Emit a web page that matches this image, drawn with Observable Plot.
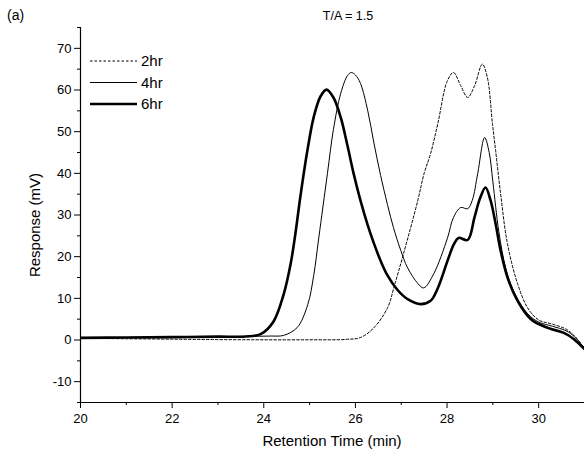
<!DOCTYPE html>
<html>
<head>
<meta charset="utf-8">
<script src="https://cdn.jsdelivr.net/npm/d3@7"></script>
<script src="https://cdn.jsdelivr.net/npm/@observablehq/plot@0.6"></script>
<style>
  body { margin: 0; background: #fff; }
  #chart { width: 584px; height: 464px; }
  svg { font-family: "Liberation Sans", Arial, sans-serif; }
</style>
</head>
<body>
<div id="chart"></div>
<script>
// ---- data ----
const seriesNames = ["2hr", "4hr", "6hr"];

const t2 = [20, 21, 22, 23, 24, 25, 25.8, 26.11, 26.4, 26.7, 26.85, 27.05, 27.36, 27.5, 27.64, 27.8, 28.0, 28.14, 28.3, 28.45, 28.6, 28.77, 28.88, 28.99, 29.06, 29.17, 29.32, 29.54, 29.76, 30.0, 30.3, 30.6, 30.78, 31];
const v2 = [0.4, 0.3, 0.2, 0.1, 0.05, 0.05, 0.15, 0.6, 2.9, 7.7, 13, 20.7, 33.4, 40, 44.7, 52, 62, 64.2, 61, 58.2, 61, 66.2, 63, 52, 45.5, 35, 23, 13.5, 7.7, 4.8, 3.8, 2.6, 1.0, -2];

const t4 = [20, 21, 22, 23, 23.8, 24.15, 24.43, 24.73, 24.96, 25.09, 25.2, 25.39, 25.52, 25.68, 25.83, 25.91, 26.0, 26.11, 26.27, 26.4, 26.55, 26.7, 26.83, 26.99, 27.14, 27.36, 27.49, 27.71, 28.01, 28.14, 28.3, 28.45, 28.55, 28.67, 28.82, 28.92, 29.0, 29.13, 29.28, 29.45, 29.76, 30.0, 30.3, 30.6, 30.78, 31];
const v4 = [0.5, 0.6, 0.7, 0.8, 0.9, 0.95, 1.1, 3.0, 8.5, 15.5, 24.5, 40, 50.5, 59.2, 63.5, 64.2, 63.6, 61.6, 55, 47.5, 39.5, 32.5, 27, 21.5, 17.3, 13.6, 12.5, 15.9, 24.5, 29.4, 31.8, 31.5, 33.5, 40, 48.6, 45, 38, 26, 17.3, 11.8, 6.3, 4.3, 3.3, 2.2, 0.8, -2];

const t6 = [20, 21, 22, 23, 23.6, 23.93, 24.21, 24.43, 24.59, 24.69, 24.8, 24.96, 25.09, 25.24, 25.37, 25.52, 25.68, 25.83, 25.96, 26.11, 26.27, 26.4, 26.55, 26.7, 26.92, 27.14, 27.42, 27.64, 27.8, 28.01, 28.15, 28.25, 28.45, 28.6, 28.72, 28.84, 28.95, 29.06, 29.17, 29.32, 29.54, 29.83, 30.2, 30.55, 30.77, 31];
const v6 = [0.5, 0.6, 0.7, 0.8, 0.85, 1.4, 4.4, 10.8, 18.5, 25.5, 34.5, 46, 53.5, 58.5, 60.1, 58.2, 53.4, 46.5, 40, 33.5, 27.5, 23.3, 19, 15.5, 12, 9.8, 8.6, 9.4, 12.5, 19, 23, 24.5, 24, 29.5, 34, 36.6, 33.5, 27.9, 21.4, 15, 9.4, 5, 2.9, 1.7, 0.2, -2.2];

const xTicksMajor = [20, 22, 24, 26, 28, 30];
const xTicksMinor = [21, 23, 25, 27, 29, 31];
const yTicksMajor = [-10, 0, 10, 20, 30, 40, 50, 60, 70];
const yTicksMinor = [-15, -5, 5, 15, 25, 35, 45, 55, 65, 75];

const titleText = "T/A = 1.5";
const panelText = "(a)";
const xLabel = "Retention Time (min)";
const yLabel = "Response (mV)";

// build long table
const rows = [];
[[t2, v2, "2hr"], [t4, v4, "4hr"], [t6, v6, "6hr"]].forEach(([ts, vs, s]) => {
  ts.forEach((t, i) => rows.push({t, v: vs[i], s}));
});

const styles = {
  "2hr": {strokeWidth: 1, dash: "2.5,2"},
  "4hr": {strokeWidth: 1, dash: null},
  "6hr": {strokeWidth: 2.6, dash: null}
};

const W = 584, H = 464;
const mL = 80, mR = 0, mT = 27, mB = 62;

const lineMarks = seriesNames.map(s => Plot.line(rows.filter(d => d.s === s), {
  x: "t", y: "v", stroke: "black", strokeWidth: styles[s].strokeWidth,
  strokeDasharray: styles[s].dash, curve: "catmull-rom", clip: true
}));

const chart = Plot.plot({
  width: W, height: H,
  marginLeft: mL, marginRight: mR, marginTop: mT, marginBottom: mB,
  style: {fontFamily: "'Liberation Sans', Arial, sans-serif", fontSize: "13px", color: "black", background: "white"},
  x: {domain: [20, 31]},
  y: {domain: [-15, 75]},
  marks: [
    Plot.axisX({ticks: xTicksMajor, tickSize: 6, tickPadding: 5, label: null, fontSize: 13, tickFormat: d => String(d)}),
    Plot.axisX({ticks: xTicksMinor, tickSize: 3, label: null, tickFormat: () => ""}),
    Plot.axisY({ticks: yTicksMajor, tickSize: 6, tickPadding: 3, label: null, fontSize: 13, tickFormat: d => String(d)}),
    Plot.axisY({ticks: yTicksMinor, tickSize: 3, label: null, tickFormat: () => ""}),
    Plot.ruleX([20], {stroke: "black", strokeWidth: 1.2}),
    Plot.ruleY([-15], {stroke: "black", strokeWidth: 1.2}),
    ...lineMarks
  ]
});

document.getElementById("chart").appendChild(chart);

// text & legend annotations
const svg = d3.select(chart);
svg.append("text").attr("x", 7).attr("y", 20).attr("text-anchor", "start").attr("font-size", 14).attr("fill", "black").text(panelText);
svg.append("text").attr("x", 348).attr("y", 20).attr("text-anchor", "middle").attr("font-size", 12.5).attr("fill", "black").text(titleText);
svg.append("text").attr("x", (mL + W - mR) / 2).attr("y", 446).attr("text-anchor", "middle").attr("font-size", 15).attr("fill", "black").text(xLabel);
svg.append("text").attr("transform", `translate(40,225) rotate(-90)`).attr("text-anchor", "middle").attr("font-size", 15).attr("fill", "black").text(yLabel);

const leg = svg.append("g");
seriesNames.forEach((s, i) => {
  const y = 61 + i * 21.5;
  leg.append("line").attr("x1", 90).attr("x2", 137).attr("y1", y).attr("y2", y)
    .attr("stroke", "black").attr("stroke-width", styles[s].strokeWidth)
    .attr("stroke-dasharray", styles[s].dash);
  leg.append("text").attr("x", 141).attr("y", y).attr("dy", "0.35em").attr("text-anchor", "start").attr("font-size", 15).attr("fill", "black").text(s);
});
</script>
</body>
</html>
